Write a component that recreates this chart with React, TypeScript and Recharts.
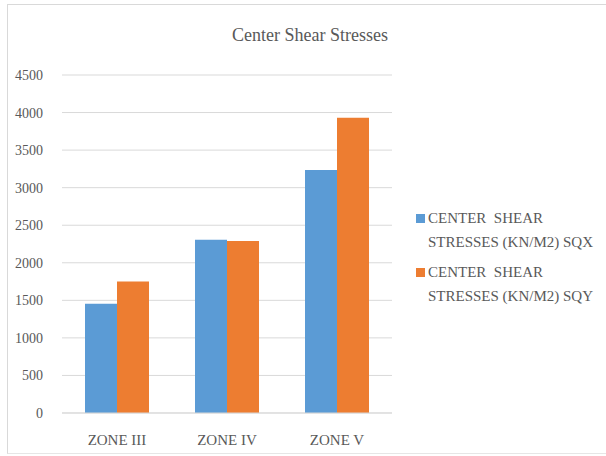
import { BarChart, Bar, XAxis, YAxis, CartesianGrid, Legend } from "recharts";

const zones = ["ZONE III", "ZONE IV", "ZONE V"];
const sqx = [1455, 2305, 3235];
const sqy = [1750, 2290, 3930];
const yTicks = [0, 500, 1000, 1500, 2000, 2500, 3000, 3500, 4000, 4500];
const seriesNames = [
  "CENTER  SHEAR\nSTRESSES (KN/M2) SQX",
  "CENTER  SHEAR\nSTRESSES (KN/M2) SQY",
];

const data = zones.map((zone, i) => ({ zone, sqx: sqx[i], sqy: sqy[i] }));

const font = "'Liberation Serif', 'Times New Roman', serif";
const textColor = "#595959";

function LegendBox(props: any) {
  const items = props.payload || [];
  return (
    <div style={{ fontFamily: font, fontSize: 15, color: textColor }}>
      {items.map((item: any) => (
        <div key={item.value} style={{ display: "flex", height: 48, marginBottom: 6 }}>
          <div
            style={{
              width: 9,
              height: 9,
              background: item.color,
              marginTop: 8,
              marginRight: 3,
              flexShrink: 0,
            }}
          />
          <div style={{ whiteSpace: "pre", lineHeight: "24px" }}>{item.value}</div>
        </div>
      ))}
    </div>
  );
}

export default function App() {
  return (
    <div
      style={{
        position: "absolute",
        left: 0,
        top: 0,
        width: 606,
        height: 456,
        background: "#fff",
        overflow: "hidden",
      }}
    >
      <div
        style={{
          position: "absolute",
          left: 7,
          top: 4,
          width: 599,
          height: 448,
          borderLeft: "1px solid #d9d9d9",
          borderTop: "1px solid #d9d9d9",
          borderBottom: "1px solid #e6e6e6",
        }}
      />
      <div
        style={{
          position: "absolute",
          left: 160,
          top: 25,
          width: 300,
          textAlign: "center",
          fontFamily: font,
          fontSize: 18,
          lineHeight: "20px",
          color: textColor,
        }}
      >
        Center Shear Stresses
      </div>
      <div style={{ position: "absolute", left: 0, top: 0 }}>
        <BarChart
          width={606}
          height={456}
          data={data}
          margin={{ top: 75, right: 214, bottom: 13, left: 12 }}
          barGap={0}
          barSize={32}
        >
          <CartesianGrid vertical={false} stroke="#d9d9d9" />
          <XAxis
            dataKey="zone"
            height={30}
            tickLine={false}
            tickSize={0}
            tickMargin={21}
            axisLine={{ stroke: "#d9d9d9" }}
            tick={{ fill: textColor, fontFamily: font, fontSize: 15 }}
          />
          <YAxis
            width={50}
            domain={[0, 4500]}
            ticks={yTicks}
            axisLine={false}
            tickLine={false}
            tickSize={0}
            tickMargin={19}
            tick={{ fill: textColor, fontFamily: font, fontSize: 14 }}
          />
          <Legend
            content={<LegendBox />}
            layout="vertical"
            align="center"
            verticalAlign="middle"
            wrapperStyle={{ position: "absolute", left: 416, top: 206, width: 190 }}
          />
          <Bar dataKey="sqx" name={seriesNames[0]} fill="#5B9BD5" isAnimationActive={false} />
          <Bar dataKey="sqy" name={seriesNames[1]} fill="#ED7D31" isAnimationActive={false} />
        </BarChart>
      </div>
    </div>
  );
}
